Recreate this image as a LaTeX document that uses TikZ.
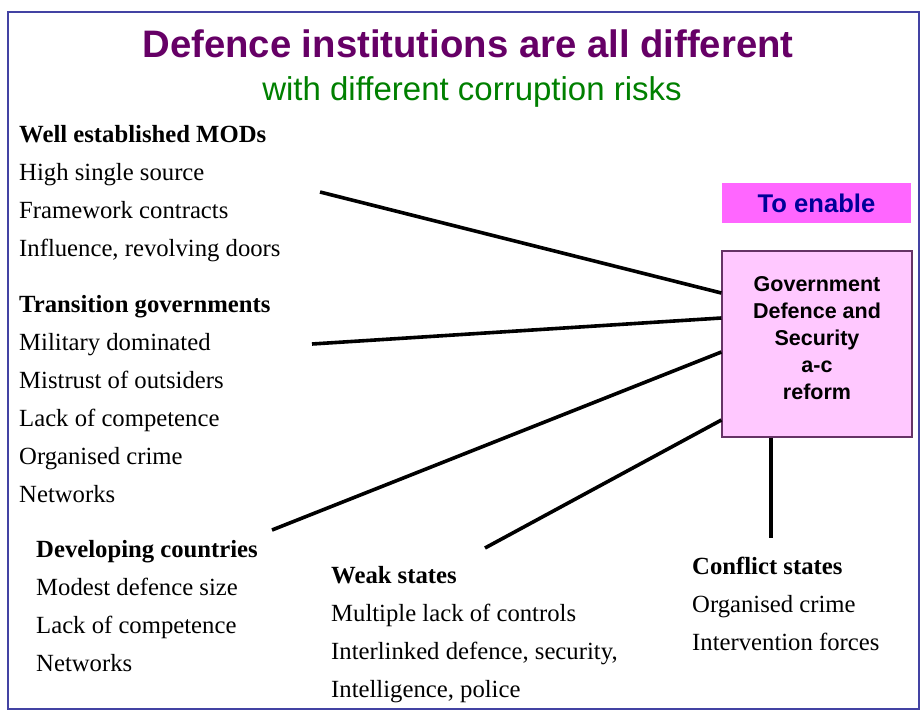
\documentclass[tikz,border=0pt]{standalone}
\usepackage{fontspec}
\setmainfont{Liberation Serif}
\setsansfont{Liberation Sans}
\definecolor{framecol}{HTML}{4343A3}
\definecolor{titlecol}{HTML}{660066}
\definecolor{subcol}{HTML}{008000}
\definecolor{govfill}{HTML}{FFC8FF}
\definecolor{govdraw}{HTML}{663366}
\definecolor{enablefill}{HTML}{FF66FF}
\definecolor{enabletext}{HTML}{000099}
\begin{document}
\begin{tikzpicture}[x=1pt,y=-1pt,
    heading/.style={anchor=base west,inner sep=0,font=\fontsize{24.7}{24.7}\selectfont\bfseries},
    item/.style={anchor=base west,inner sep=0,font=\fontsize{24.7}{24.7}\selectfont},
    link/.style={line width=3.6pt,black},
    govbox/.style={fill=govfill,draw=govdraw,line width=1.2pt,minimum width=190pt,minimum height=186pt,inner sep=0},
    govtext/.style={align=center,inner sep=0,font=\fontsize{21.5}{27}\selectfont\sffamily\bfseries},
    enable/.style={fill=enablefill,text=enabletext,minimum width=189pt,minimum height=40pt,inner sep=0,font=\fontsize{25.6}{25.6}\selectfont\sffamily\bfseries}]
    \useasboundingbox (0,0) rectangle (924,713);
    \draw[framecol,line width=2pt] (8,12) rectangle (919,709);
    \node[anchor=base,text=titlecol,font=\fontsize{38.3}{38.3}\selectfont\sffamily\bfseries] (title) at (468,57) {Defence institutions are all different};
    \node[anchor=base,text=subcol,font=\fontsize{33}{33}\selectfont\sffamily] (subtitle) at (472,100) {with different corruption risks};
    \node[enable] (enable) at (816.5,203) {\raisebox{-1.5pt}{To enable}};
    \node[govbox] (gov) at (817,344) {};
    \node[govtext] (govtxt) at ([yshift=6]gov.center) {Government\\Defence and\\Security\\a-c\\reform};
    \node[heading] (mods) at (19,142) {Well established MODs};
    \foreach \t [count=\i] in {High single source, Framework contracts, {Influence, revolving doors}}
        \node[item] (mods-\i) at (19,142+38*\i) {\t};
    \node[heading] (trans) at (19,312) {Transition governments};
    \foreach \t [count=\i] in {Military dominated, Mistrust of outsiders, Lack of competence, Organised crime, Networks}
        \node[item] (trans-\i) at (19,312+38*\i) {\t};
    \node[heading] (dev) at (36,557) {Developing countries};
    \foreach \t [count=\i] in {Modest defence size, Lack of competence, Networks}
        \node[item] (dev-\i) at (36,557+38*\i) {\t};
    \node[heading] (weak) at (331,583) {Weak states};
    \foreach \t [count=\i] in {Multiple lack of controls, {Interlinked defence, security,}, {Intelligence, police}}
        \node[item] (weak-\i) at (331,583+38*\i) {\t};
    \node[heading] (conf) at (692,574) {Conflict states};
    \foreach \t [count=\i] in {Organised crime, Intervention forces}
        \node[item] (conf-\i) at (692,574+38*\i) {\t};
    \coordinate (mods-end) at (320,192);
    \coordinate (trans-end) at (312,344);
    \coordinate (dev-end) at (272,530);
    \coordinate (weak-end) at (485,548);
    \coordinate (conf-end) at (771,538);
    \foreach \p/\s in {mods/51, trans/26, dev/-8, weak/-76}
        \draw[link] (\p-end) -- ([yshift=\s]gov.west);
    \draw[link] ([xshift=-46]gov.south) -- (conf-end);
\end{tikzpicture}
\end{document}
